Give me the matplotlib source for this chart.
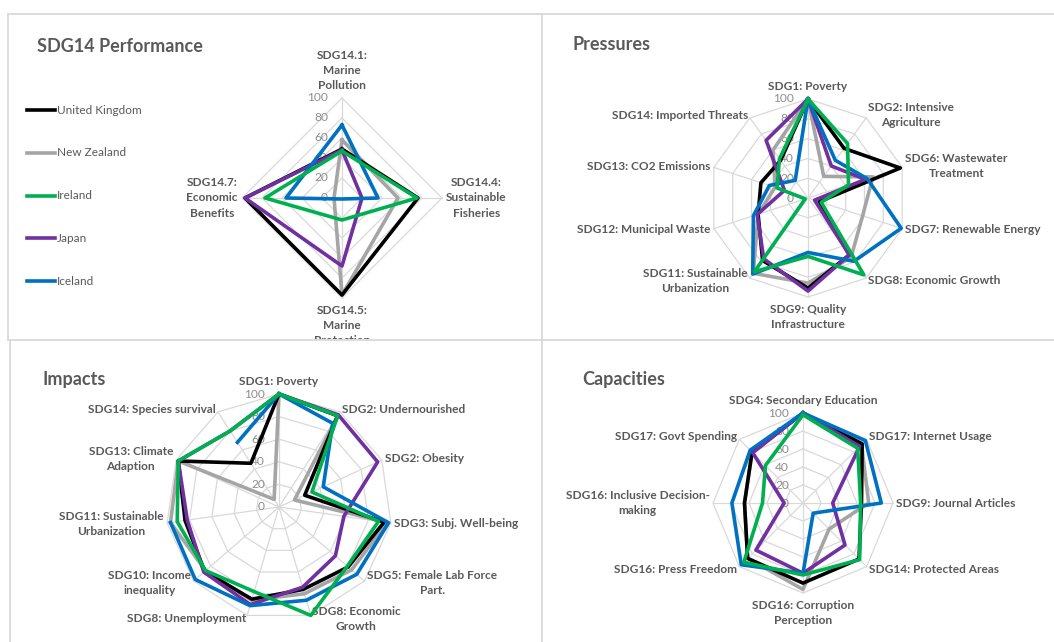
#imports
import numpy as np
import matplotlib
matplotlib.use("Agg")
import matplotlib.pyplot as plt
from matplotlib.lines import Line2D
from matplotlib.transforms import Bbox, TransformedBbox

plt.rcParams['font.family'] = ['Lato', 'DejaVu Sans']

#countries and their colours (legend order)
countries = ["United Kingdom", "New Zealand", "Ireland", "Japan", "Iceland"]
colors = ["#000000", "#a5a5a5", "#00b050", "#7030a0", "#0070c0"]

#SDG14 performance
perf_labels = ["SDG14.1:\nMarine\nPollution", "SDG14.4:\nSustainable\nFisheries",
               "SDG14.5:\nMarine\nProtection", "SDG14.7:\nEconomic\nBenefits"]
perf_uk = [49, 76, 97, 97]
perf_nz = [58, 56, 97, 8]
perf_ie = [47, 75, 22, 77]
perf_jp = [48, 20, 68, 97]
perf_is = [73, 36, 1, 56]

#pressures
pres_labels = ["SDG1: Poverty", "SDG2: Intensive\nAgriculture", "SDG6: Wastewater\nTreatment",
               "SDG7: Renewable Energy", "SDG8: Economic Growth", "SDG9: Quality\nInfrastructure",
               "SDG11: Sustainable\nUrbanization", "SDG12: Municipal Waste",
               "SDG13: CO2 Emissions", "SDG14: Imported Threats"]
pres_uk = [100, 62, 98, 12, 71, 91, 78, 53, 50, 47]
pres_nz = [100, 27, 69, 58, 74, 86, 94, 53, 35, 60]
pres_ie = [100, 68, 43, 14, 96, 59, 92, 3, 33, 49]
pres_jp = [100, 40, 61, 7, 71, 94, 76, 54, 25, 72]
pres_is = [100, 47, 63, 99, 79, 55, 95, 58, 41, 22]

#impacts (Iceland has no value for SDG13)
imp_labels = ["SDG1: Poverty", "SDG2: Undernourished", "SDG2: Obesity", "SDG3: Subj. Well-being",
              "SDG5: Female Lab Force\nPart.", "SDG8: Economic\nGrowth", "SDG8: Unemployment",
              "SDG10: Income\ninequality", "SDG11: Sustainable\nUrbanization",
              "SDG13: Climate\nAdaption", "SDG14: Species survival"]
imp_uk = [100, 96, 25, 94, 81, 76, 85, 87, 84, 98, 46]
imp_nz = [100, 96, 15, 97, 85, 80, 86, 86, 97, 98, 8]
imp_ie = [100, 96, 32, 89, 80, 100, 78, 86, 91, 98, 80]
imp_jp = [100, 97, 96, 58, 66, 74, 90, 88, 82, 98, 80]
imp_is = [100, 88, 43, 98, 91, 86, 91, 98, 97, np.nan, 68]

#capacities
cap_labels = ["SDG4: Secondary Education", "SDG17: Internet Usage", "SDG9: Journal Articles",
              "SDG14: Protected Areas", "SDG16: Corruption\nPerception", "SDG16: Press Freedom",
              "SDG16: Inclusive Decision-\nmaking", "SDG17: Govt Spending"]
cap_uk = [100, 93, 65, 88, 89, 87, 65, 80]
cap_nz = [100, 92, 73, 41, 96, 87, 65, 80]
cap_ie = [98, 86, 64, 89, 80, 93, 45, 59]
cap_jp = [100, 89, 33, 66, 78, 74, 21, 79]
cap_is = [100, 98, 87, 16, 78, 97, 79, 83]

ticks = [0, 20, 40, 60, 80, 100]

W, H = 1054, 642
fig = plt.figure(figsize=(W / 100, H / 100), dpi=100)
fig.patch.set_facecolor("white")

text_col = "#595959"
grid_col = "#d9d9d9"


#make a polar axes centred at (cx, cy) pixels with radius r pixels
def radar_axes(cx, cy, r):
    ax = fig.add_axes([(cx - r) / W, 1 - (cy + r) / H, 2 * r / W, 2 * r / H], projection="polar")
    ax.set_theta_zero_location("N")
    ax.set_theta_direction(-1)
    ax.set_ylim(0, 100)
    ax.set_axis_off()
    return ax


#draw grid, tick labels, category labels and the country polygons
def radar(ax, labels, series, fs=8.6, pad_side=2.5, pad_vert=5):
    n = len(labels)
    th = np.linspace(0, 2 * np.pi, n, endpoint=False)
    th_c = np.append(th, th[0])
    for lvl in ticks[1:]:
        ax.plot(th_c, [lvl] * (n + 1), color=grid_col, lw=0.9, zorder=1, clip_on=False)
    for t in th:
        ax.plot([t, t], [0, 100], color=grid_col, lw=0.9, zorder=1, clip_on=False)
    for v in ticks:
        ax.annotate(str(v), xy=(0, v), xytext=(-10, 0), textcoords="offset points",
                    ha="right", va="center", fontsize=8.6, color="#8c8c8c",
                    annotation_clip=False, zorder=2)
    texts = []
    for t, lab in zip(th, labels):
        s, c = np.sin(t), np.cos(t)
        if abs(s) < 0.01:
            ha = "center"
        else:
            ha = "left" if s > 0 else "right"
        if c > 0.99:
            va = "bottom"
        elif c < -0.99:
            va = "top"
        else:
            va = "center"
        pad = pad_vert if abs(s) < 0.01 else pad_side
        texts.append(ax.annotate(lab, xy=(t, 100), xytext=(pad * s, pad * c), textcoords="offset points",
                                 ha=ha, va=va, multialignment="center", fontsize=fs,
                                 fontweight="bold", color=text_col, annotation_clip=False,
                                 linespacing=1.45))
    for vals, col in series:
        v = np.array(vals, dtype=float)
        ax.plot(th_c, np.append(v, v[0]), color=col, lw=2.6, zorder=3, clip_on=False,
                solid_joinstyle="round")
    return texts


def order(uk, nz, ie, jp, ic):
    #drawing order: NZ, UK, Japan, Iceland, Ireland on top
    return [(nz, colors[1]), (uk, colors[0]), (jp, colors[3]), (ic, colors[4]), (ie, colors[2])]


#panel borders
def hline(y, x0, x1):
    fig.add_artist(Line2D([x0 / W, x1 / W], [1 - y / H, 1 - y / H], transform=fig.transFigure,
                          color=grid_col, lw=1.3))


def vline(x, y0, y1):
    fig.add_artist(Line2D([x / W, x / W], [1 - y0 / H, 1 - y1 / H], transform=fig.transFigure,
                          color=grid_col, lw=1.3))


hline(14, 8, W)
hline(340, 8, W)
vline(8, 14, 340)
vline(10, 340, H)
vline(542, 14, H)

#titles
fig.text(37 / W, 1 - 47 / H, "SDG14 Performance", fontsize=13, fontweight="bold", color=text_col, va="center")
fig.text(572 / W, 1 - 45 / H, "Pressures", fontsize=13, fontweight="bold", color=text_col, va="center")
fig.text(42 / W, 1 - 380 / H, "Impacts", fontsize=13, fontweight="bold", color=text_col, va="center")
fig.text(582 / W, 1 - 380 / H, "Capacities", fontsize=13, fontweight="bold", color=text_col, va="center")

#SDG14 performance panel with legend
ax1 = radar_axes(342, 198, 100)
t1 = radar(ax1, perf_labels, order(perf_uk, perf_nz, perf_ie, perf_jp, perf_is), pad_side=3, pad_vert=5)
clip = TransformedBbox(Bbox([[0, 1 - 339 / H], [542 / W, 1]]), fig.transFigure)
for t in t1:
    t.set_clip_box(clip)
    t.set_clip_on(True)

for i, (name, col) in enumerate(zip(countries, colors)):
    y = 1 - (110 + 42.8 * i) / H
    fig.add_artist(Line2D([27 / W, 55 / W], [y, y], transform=fig.transFigure, color=col, lw=2.6))
    fig.text(57 / W, y, name, fontsize=8.5, color=text_col, va="center")

ax2 = radar_axes(808, 198, 99)
radar(ax2, pres_labels, order(pres_uk, pres_nz, pres_ie, pres_jp, pres_is))

ax3 = radar_axes(279, 507, 113)
radar(ax3, imp_labels, order(imp_uk, imp_nz, imp_ie, imp_jp, imp_is))

ax4 = radar_axes(803, 503, 90)
radar(ax4, cap_labels, order(cap_uk, cap_nz, cap_ie, cap_jp, cap_is))

fig.savefig("out.png", dpi=100, facecolor="white")
